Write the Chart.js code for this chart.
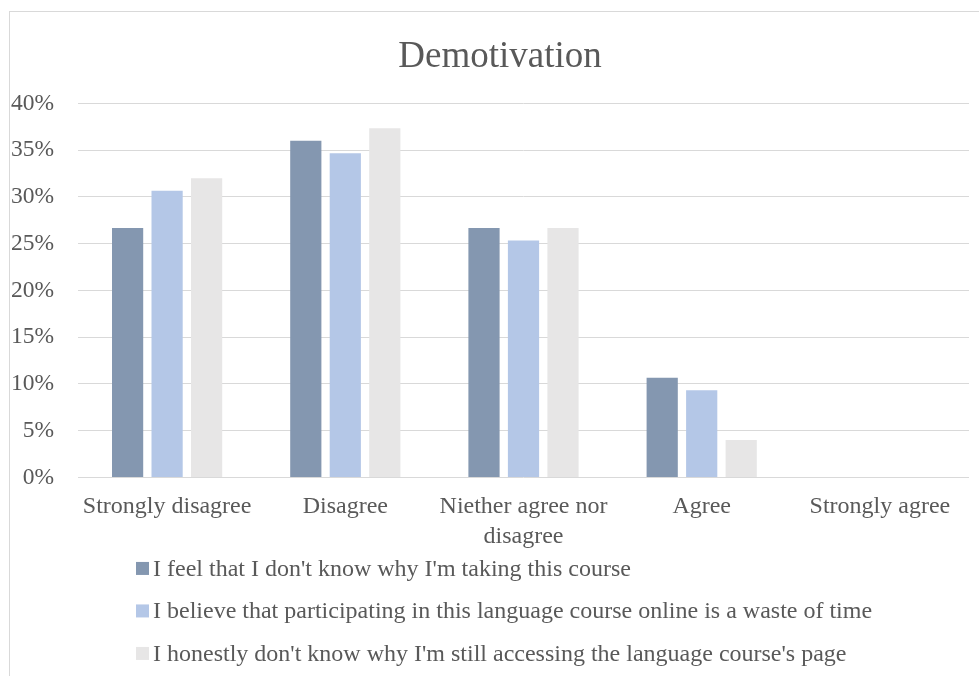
<!DOCTYPE html>
<html>
<head>
<meta charset="utf-8">
<title>Demotivation</title>
<script src="https://cdn.jsdelivr.net/npm/chart.js@4.4.1/dist/chart.umd.min.js"></script>
<style>
  html, body { margin: 0; padding: 0; background: #fff; }
  canvas { display: block; }
</style>
</head>
<body>
<canvas id="chart" width="979" height="676"></canvas>
<script>
// Chart data (percent of respondents)
const categories = ['Strongly disagree', 'Disagree', ['Niether agree nor', 'disagree'], 'Agree', 'Strongly agree'];
const seriesNames = [
    "I feel that I don't know why I'm taking this course",
    'I believe that participating in this language course online is a waste of time',
    "I honestly don't know why I'm still accessing the language course's page"
];
const dontKnowWhy = [26.67, 36, 26.67, 10.67, 0];
const wasteOfTime = [30.67, 34.67, 25.33, 9.33, 0];
const stillAccessing = [32, 37.33, 26.67, 4, 0];
const yTicks = [0, 5, 10, 15, 20, 25, 30, 35, 40];

const colors = ['#8497B0', '#B4C7E7', '#E7E6E6'];
const FONT = "'Liberation Serif', 'Times New Roman', serif";
const TEXT = '#595959';
const GRID = '#D9D9D9';

// light frame around the whole chart, cropped at right/bottom like the original
const frame = {
    id: 'frame',
    afterLayout(chart) {
        // original frame is wider than the picture, so its title sits a bit right of centre
        if (chart.titleBlock) chart.titleBlock.left += 21;
    },
    beforeDraw(chart) {
        const ctx = chart.ctx;
        ctx.save();
        ctx.strokeStyle = GRID;
        ctx.lineWidth = 1;
        ctx.strokeRect(9.5, 11.5, chart.width + 20, chart.height + 20);
        ctx.restore();
    }
};

// legend as a left-aligned vertical list under the axis
const listLegend = {
    id: 'listLegend',
    afterDraw(chart) {
        const ctx = chart.ctx;
        const area = chart.chartArea;
        ctx.save();
        ctx.font = `24px ${FONT}`;
        ctx.textBaseline = 'middle';
        ctx.textAlign = 'left';
        chart.data.datasets.forEach((ds, i) => {
            const y = area.bottom + 91 + i * 42.5;
            ctx.fillStyle = ds.backgroundColor;
            ctx.fillRect(136, y - 6.5, 13, 13);
            ctx.fillStyle = TEXT;
            ctx.fillText(ds.label, 153, y + 1);
        });
        ctx.restore();
    }
};

const datasets = [dontKnowWhy, wasteOfTime, stillAccessing].map((values, i) => ({
    label: seriesNames[i],
    data: values,
    backgroundColor: colors[i],
    borderWidth: 0,
    categoryPercentage: 0.665,
    barPercentage: 0.79
}));

new Chart(document.getElementById('chart'), {
    type: 'bar',
    data: { labels: categories, datasets },
    plugins: [frame, listLegend],
    options: {
        responsive: false,
        animation: false,
        layout: { padding: { left: 10, right: 10, top: 0, bottom: 110 } },
        plugins: {
            legend: { display: false },
            tooltip: { enabled: false },
            title: {
                display: true,
                text: 'Demotivation',
                color: TEXT,
                font: { family: FONT, size: 37, weight: 'normal', lineHeight: 1.2 },
                padding: { top: 35, bottom: 24 }
            }
        },
        scales: {
            x: {
                grid: { display: false, drawTicks: false },
                border: { display: false },
                ticks: {
                    color: TEXT,
                    padding: 15,
                    maxRotation: 0,
                    autoSkip: false,
                    font: { family: FONT, size: 24, lineHeight: 1.22 }
                }
            },
            y: {
                min: 0,
                max: 40,
                afterBuildTicks: (scale) => { scale.ticks = yTicks.map(v => ({ value: v })); },
                afterFit: (scale) => { scale.width = 68; },
                grid: { color: GRID, lineWidth: 1, drawTicks: false },
                border: { display: false },
                ticks: {
                    color: TEXT,
                    padding: 24,
                    font: { family: FONT, size: 23.5 },
                    callback: (v) => v + '%'
                }
            }
        }
    }
});
</script>
</body>
</html>
